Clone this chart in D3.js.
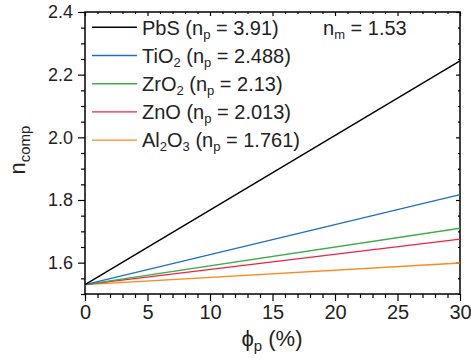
<!DOCTYPE html>
<html><head><meta charset="utf-8">
<script src="https://cdn.jsdelivr.net/npm/d3@7"></script>
<style>
body{margin:0;background:#fff;}
svg{display:block;font-family:"Liberation Sans",Arial,sans-serif;}
</style></head>
<body>
<svg id="c" width="471" height="360"></svg>
<script>
// ---- data ----
const phi = [0, 30];                       // volume fraction (%)
const materials = ["PbS", "TiO2", "ZrO2", "ZnO", "Al2O3"];
const npValues = ["3.91", "2.488", "2.13", "2.013", "1.761"];
const nPbS   = [1.53, 2.244];
const nTiO2  = [1.53, 1.817];
const nZrO2  = [1.53, 1.710];
const nZnO   = [1.53, 1.675];
const nAl2O3 = [1.53, 1.599];
const seriesValues = [nPbS, nTiO2, nZrO2, nZnO, nAl2O3];
const colors = ["#000000", "#1f6fc5", "#3cad49", "#ee2344", "#fb8a1f"];
const xTicks = [0, 5, 10, 15, 20, 25, 30];
const yTicks = [1.6, 1.8, 2.0, 2.2, 2.4];
const nm = "1.53";

// ---- layout ----
const svg = d3.select("#c");
const L = 85, R = 460, T = 12, B = 294;
const x = d3.scaleLinear().domain([0, 30]).range([L, R]);
const y = d3.scaleLinear().domain([1.5, 2.4]).range([B, T]);

const xMinor = d3.range(0, 31, 1).filter(v => v % 5 !== 0);
const yMinor = d3.range(1.5, 2.401, 0.05).map(v => +v.toFixed(2)).filter(v => !yTicks.some(t => Math.abs(t - v) < 1e-6));

function styleAxis(g){
  g.select(".domain").remove();
  g.selectAll("line").attr("stroke", "#000").attr("stroke-width", 1.2);
}

// bottom axis
svg.append("g").attr("transform", `translate(0,${B})`)
  .call(d3.axisBottom(x).tickValues(xTicks).tickSize(7).tickPadding(4).tickFormat(d3.format("d")))
  .call(styleAxis)
  .call(g => g.selectAll("text").attr("font-size", 20).attr("fill", "#222").attr("font-family", "Liberation Sans, Arial"));
svg.append("g").attr("transform", `translate(0,${B})`)
  .call(d3.axisBottom(x).tickValues(xMinor).tickSize(4).tickFormat(""))
  .call(styleAxis);
// top axis (inward ticks)
svg.append("g").attr("transform", `translate(0,${T})`)
  .call(d3.axisBottom(x).tickValues(xTicks).tickSize(4).tickFormat(""))
  .call(styleAxis);
svg.append("g").attr("transform", `translate(0,${T})`)
  .call(d3.axisBottom(x).tickValues(xMinor).tickSize(2).tickFormat(""))
  .call(styleAxis);

// left axis
svg.append("g").attr("transform", `translate(${L},0)`)
  .call(d3.axisLeft(y).tickValues(yTicks).tickSize(7).tickPadding(5).tickFormat(d3.format(".1f")))
  .call(styleAxis)
  .call(g => g.selectAll("text").attr("font-size", 18).attr("fill", "#222").attr("font-family", "Liberation Sans, Arial"));
svg.append("g").attr("transform", `translate(${L},0)`)
  .call(d3.axisLeft(y).tickValues(yMinor).tickSize(4).tickFormat(""))
  .call(styleAxis);
// right axis (inward ticks)
svg.append("g").attr("transform", `translate(${R},0)`)
  .call(d3.axisLeft(y).tickValues(yTicks).tickSize(4).tickFormat(""))
  .call(styleAxis);
svg.append("g").attr("transform", `translate(${R},0)`)
  .call(d3.axisLeft(y).tickValues(yMinor).tickSize(2).tickFormat(""))
  .call(styleAxis);

// frame
svg.append("rect").attr("x", L).attr("y", T).attr("width", R - L).attr("height", B - T)
  .attr("fill", "none").attr("stroke", "#000").attr("stroke-width", 1.5);

// lines
const line = d3.line().x((d, i) => x(phi[i])).y(d => y(d));
seriesValues.slice().reverse().forEach((vals, k) => {
  const i = seriesValues.length - 1 - k;
  svg.append("path").datum(vals).attr("d", line)
    .attr("fill", "none").attr("stroke", colors[i]).attr("stroke-width", 1.4);
});

// rich text helper: segments [{t, sub}]
const subSize = 13, subShift = 4;
function rich(t, segs){
  let cur = 0;
  segs.forEach(s => {
    const target = s.sub ? subShift : 0;
    const ts = t.append("tspan").attr("dy", target - cur).text(s.t);
    if (s.sub) ts.attr("font-size", subSize);
    cur = target;
  });
}
function formulaSegs(name){
  return name.match(/[A-Za-z]+|\d+/g).map(p => ({t: p, sub: /^\d+$/.test(p)}));
}

// legend
const legY0 = 27.3, legDY = 28.2;
materials.forEach((m, i) => {
  const yy = legY0 + i * legDY;
  svg.append("line").attr("x1", 92).attr("x2", 137).attr("y1", yy).attr("y2", yy)
    .attr("stroke", colors[i]).attr("stroke-width", 1.4);
  const t = svg.append("text").attr("x", 142).attr("y", yy + 7.2)
    .attr("font-size", 20).attr("fill", "#222");
  rich(t, formulaSegs(m).concat([
    {t: " (n", sub: false}, {t: "p", sub: true}, {t: " = " + npValues[i] + ")", sub: false}
  ]));
});
// n_m label
const tm = svg.append("text").attr("x", 323).attr("y", legY0 + 7.2).attr("font-size", 20).attr("fill", "#222");
rich(tm, [{t: "n", sub: false}, {t: "m", sub: true}, {t: " = " + nm, sub: false}]);

// axis titles
const xt = svg.append("text").attr("x", 272).attr("y", 346).attr("text-anchor", "middle")
  .attr("font-size", 22).attr("fill", "#222");
xt.append("tspan").text("\u03D5");
xt.append("tspan").attr("font-size", 15).attr("dy", 5).text("p");
xt.append("tspan").attr("dy", -5).text(" (%)");

const yt = svg.append("text").attr("transform", "translate(25,150) rotate(-90)").attr("text-anchor", "middle")
  .attr("font-size", 22).attr("fill", "#222");
yt.append("tspan").text("n");
yt.append("tspan").attr("font-size", 15).attr("dy", 5).text("comp");
</script>
</body></html>
